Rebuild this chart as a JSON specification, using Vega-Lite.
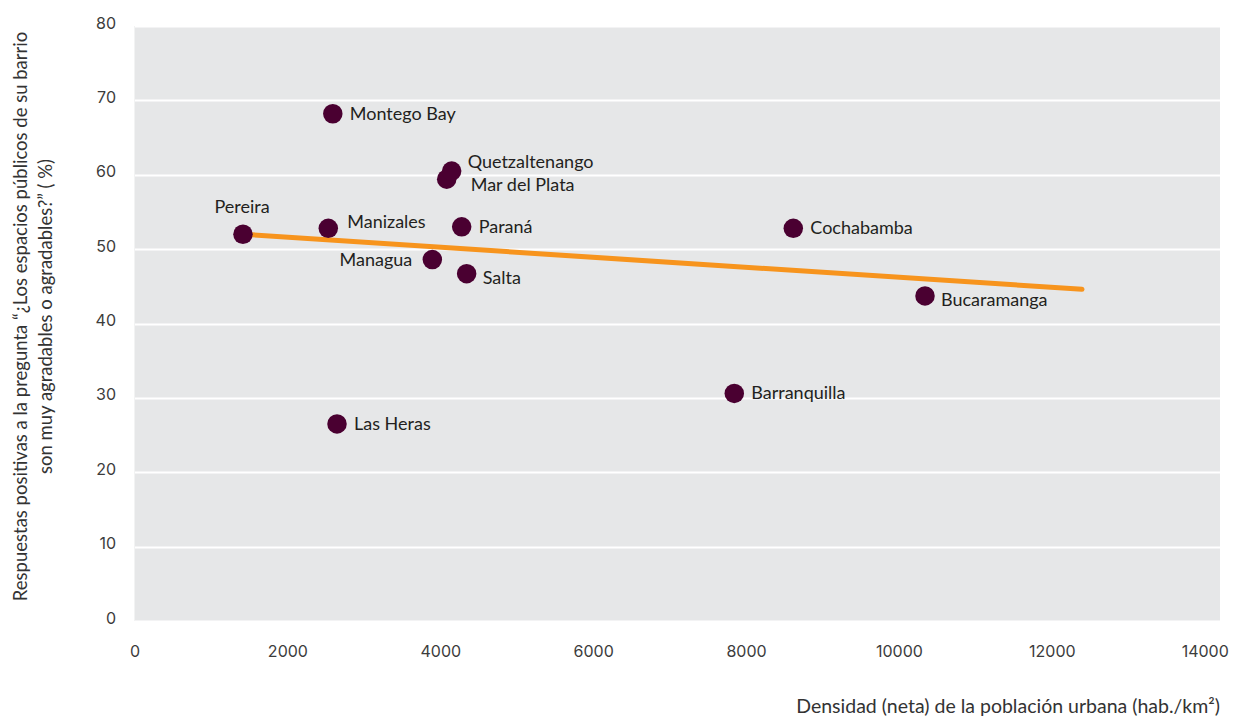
{
  "$schema": "https://vega.github.io/schema/vega-lite/v6.json",
  "width": 1085.5,
  "height": 595,
  "autosize": {"type": "none"},
  "padding": {"left": 134.5, "top": 26, "right": 15.5, "bottom": 98},
  "background": "white",
  "config": {
    "view": {"stroke": null, "fill": "#e6e7e8"},
    "font": "Lato"
  },
  "datasets": {
    "cities": [
      {"ciudad": "Pereira", "densidad": 1419, "respuesta": 52.0},
      {"ciudad": "Montego Bay", "densidad": 2594, "respuesta": 68.2},
      {"ciudad": "Manizales", "densidad": 2535, "respuesta": 52.8},
      {"ciudad": "Las Heras", "densidad": 2649, "respuesta": 26.5},
      {"ciudad": "Managua", "densidad": 3896, "respuesta": 48.6},
      {"ciudad": "Mar del Plata", "densidad": 4084, "respuesta": 59.4},
      {"ciudad": "Quetzaltenango", "densidad": 4149, "respuesta": 60.5},
      {"ciudad": "Paraná", "densidad": 4280, "respuesta": 53.0},
      {"ciudad": "Salta", "densidad": 4345, "respuesta": 46.7},
      {"ciudad": "Barranquilla", "densidad": 7846, "respuesta": 30.6},
      {"ciudad": "Cochabamba", "densidad": 8618, "respuesta": 52.8},
      {"ciudad": "Bucaramanga", "densidad": 10341, "respuesta": 43.7}
    ],
    "trend": [
      {"densidad": 1419, "respuesta": 52.0},
      {"densidad": 12395, "respuesta": 44.6}
    ]
  },
  "encoding": {
    "x": {
      "field": "densidad",
      "type": "quantitative",
      "scale": {"domain": [0, 14200], "nice": false, "zero": false},
      "axis": {
        "values": [0, 2000, 4000, 6000, 8000, 10000, 12000, 14000],
        "format": "d",
        "title": "Densidad (neta) de la población urbana (hab./km²)",
        "grid": false,
        "domain": false,
        "ticks": false,
        "tickSize": 0,
        "labelPadding": 30,
        "labelBaseline": "middle",
        "labelFlush": false,
        "labelOverlap": false,
        "labelFontSize": 16,
        "labelColor": "#3c3c3c",
        "labelFont": "Inter",
        "titleFontSize": 19.5,
        "titleFontWeight": "normal",
        "titleColor": "#333333",
        "titleAlign": "right",
        "titleBaseline": "middle",
        "titleX": 1085,
        "titleY": 85
      }
    },
    "y": {
      "field": "respuesta",
      "type": "quantitative",
      "scale": {"domain": [0, 80], "nice": false},
      "axis": {
        "values": [0, 10, 20, 30, 40, 50, 60, 70, 80],
        "title": ["Respuestas positivas a la pregunta “¿Los espacios públicos de su barrio", "son muy agradables o agradables?” ( %)"],
        "grid": true,
        "gridColor": "white",
        "gridWidth": 2,
        "domain": false,
        "ticks": false,
        "tickSize": 0,
        "labelPadding": 19,
        "labelOffset": -3,
        "labelFontSize": 16,
        "labelColor": "#3c3c3c",
        "labelFont": "Inter",
        "titleFontSize": 18.5,
        "titleFontWeight": "normal",
        "titleColor": "#333333",
        "titleLineHeight": 25,
        "titleAngle": -90,
        "titleAlign": "center",
        "titleBaseline": "bottom",
        "titleX": -104,
        "titleY": 290
      }
    }
  },
  "layer": [
    {
      "data": {"name": "trend"},
      "mark": {"type": "line", "color": "#f7941d", "strokeWidth": 5, "strokeCap": "round"}
    },
    {
      "data": {"name": "cities"},
      "mark": {"type": "circle", "size": 380, "color": "#4a0031", "opacity": 1}
    },
    {
      "data": {"name": "cities"},
      "transform": [{"filter": {"field": "ciudad", "oneOf": ["Montego Bay", "Paraná", "Cochabamba", "Barranquilla", "Las Heras"]}}],
      "mark": {"type": "text", "align": "left", "baseline": "middle", "dx": 17, "dy": 1, "fontSize": 18, "color": "#231f20"},
      "encoding": {"text": {"field": "ciudad"}}
    },
    {
      "data": {"name": "cities"},
      "transform": [{"filter": {"field": "ciudad", "equal": "Manizales"}}],
      "mark": {"type": "text", "align": "left", "baseline": "middle", "dx": 19, "dy": -5, "fontSize": 18, "color": "#231f20"},
      "encoding": {"text": {"field": "ciudad"}}
    },
    {
      "data": {"name": "cities"},
      "transform": [{"filter": {"field": "ciudad", "equal": "Quetzaltenango"}}],
      "mark": {"type": "text", "align": "left", "baseline": "middle", "dx": 16, "dy": -8, "fontSize": 18, "color": "#231f20"},
      "encoding": {"text": {"field": "ciudad"}}
    },
    {
      "data": {"name": "cities"},
      "transform": [{"filter": {"field": "ciudad", "equal": "Mar del Plata"}}],
      "mark": {"type": "text", "align": "left", "baseline": "middle", "dx": 24, "dy": 7, "fontSize": 18, "color": "#231f20"},
      "encoding": {"text": {"field": "ciudad"}}
    },
    {
      "data": {"name": "cities"},
      "transform": [{"filter": {"field": "ciudad", "oneOf": ["Salta", "Bucaramanga"]}}],
      "mark": {"type": "text", "align": "left", "baseline": "middle", "dx": 16, "dy": 5, "fontSize": 18, "color": "#231f20"},
      "encoding": {"text": {"field": "ciudad"}}
    },
    {
      "data": {"name": "cities"},
      "transform": [{"filter": {"field": "ciudad", "equal": "Managua"}}],
      "mark": {"type": "text", "align": "right", "baseline": "middle", "dx": -20, "dy": 1, "fontSize": 18, "color": "#231f20"},
      "encoding": {"text": {"field": "ciudad"}}
    },
    {
      "data": {"name": "cities"},
      "transform": [{"filter": {"field": "ciudad", "equal": "Pereira"}}],
      "mark": {"type": "text", "align": "center", "baseline": "middle", "dx": -1, "dy": -26, "fontSize": 18, "color": "#231f20"},
      "encoding": {"text": {"field": "ciudad"}}
    }
  ]
}
